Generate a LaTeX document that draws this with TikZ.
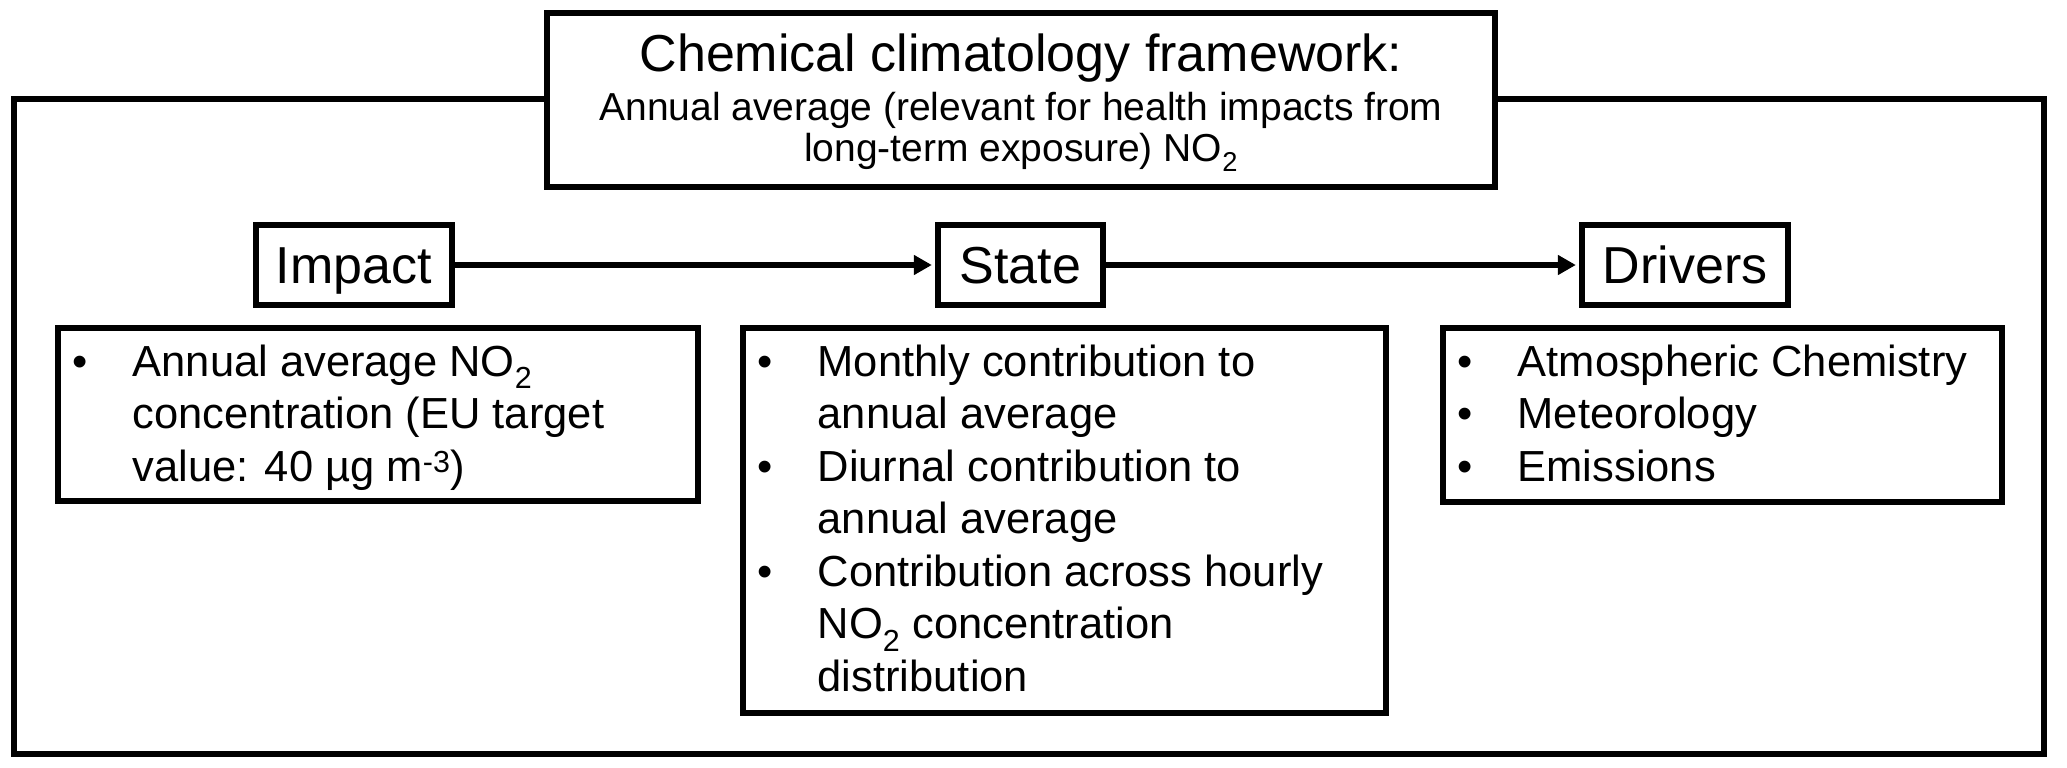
\documentclass[tikz,border=0pt]{standalone}
\usepackage{fontspec}
\setmainfont{Liberation Sans}
\usetikzlibrary{arrows.meta}
\newcommand{\fsz}[2]{\fontsize{#1pt}{#2pt}\selectfont}
\newcommand{\bul}{\makebox[60pt][l]{\textbullet}}
\begin{document}
\begin{tikzpicture}[x=1pt,y=-1pt,
  box/.style={draw, line width=6.3pt, fill=white, rectangle, inner sep=0pt},
  head/.style={box, minimum height=80pt, font=\fsz{52}{62}, text height=37pt, text depth=0pt},
  conn/.style={line width=6pt, shorten >=3pt, -{Triangle[length=18pt,width=19pt]}},
  listtext/.style={anchor=north west, inner sep=0pt, font=\fsz{43.5}{52.5}},
  ttl/.style={anchor=base, inner sep=0pt},
]
\useasboundingbox (0,0) rectangle (2067,768);
% outer frame
\node[box, fill=none, minimum width=2030pt, minimum height=655pt] (frame) at (1029,426.5) {};
% title
\node[box, minimum width=948pt, minimum height=174pt] (title) at (1021,100) {};
\node[ttl, font=\fsz{52}{60}] (t1) at (1021,71) {Chemical climatology framework:};
\node[ttl, font=\fsz{39}{40}] (t2) at (1021,121) {Annual average (relevant for health impacts from};
\node[ttl, font=\fsz{39}{40}] (t3) at (1021,161) {long-term exposure) NO\textsubscript{2}};
% headings
\node[head, minimum width=196pt] (impact) at (354,265) {Impact};
\node[head, minimum width=165pt] (state) at (1020.5,265) {State};
\node[head, minimum width=206pt] (drivers) at (1685,265) {Drivers};
\draw[conn] (impact) -- (state);
\draw[conn] (state) -- (drivers);
% content boxes
\node[box, minimum width=640pt, minimum height=173pt] (impactbox) at (378,414.5) {};
\node[listtext] (impactlist) at (72.5,339.25) {\begin{tabular}{@{}l@{}l@{}}
\bul & Annual average NO\textsubscript{2}\\
 & concentration (EU target\\
 & value: 40 µg m\textsuperscript{-3})
\end{tabular}};
\node[box, minimum width=643pt, minimum height=385pt] (statebox) at (1064.5,520.5) {};
\node[listtext] (statelist) at (757.5,339.25) {\begin{tabular}{@{}l@{}l@{}}
\bul & Monthly contribution to\\
 & annual average\\
\bul & Diurnal contribution to\\
 & annual average\\
\bul & Contribution across hourly\\
 & NO\textsubscript{2} concentration\\
 & distribution
\end{tabular}};
\node[box, minimum width=559pt, minimum height=174pt] (driversbox) at (1722.5,415) {};
\node[listtext] (driverslist) at (1457.5,339.25) {\begin{tabular}{@{}l@{}l@{}}
\bul & Atmospheric Chemistry\\
\bul & Meteorology\\
\bul & Emissions
\end{tabular}};
\end{tikzpicture}
\end{document}
